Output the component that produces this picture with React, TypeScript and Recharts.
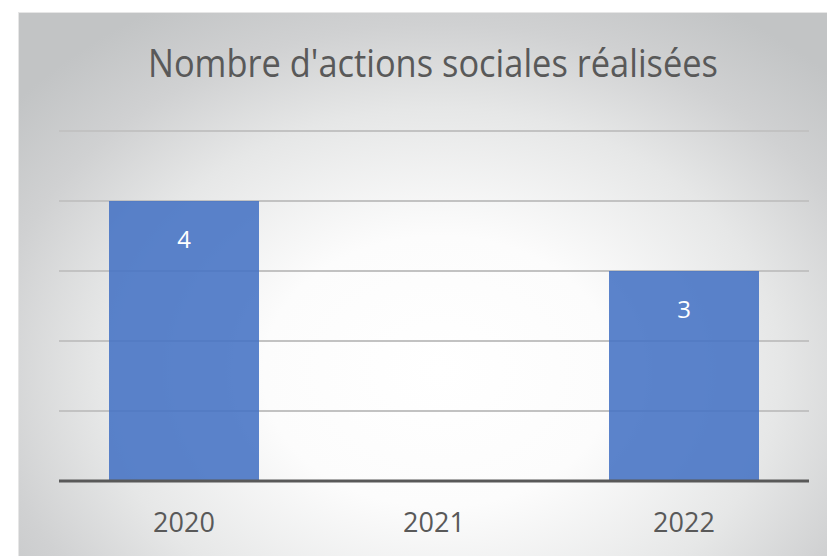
import React from 'react';
import { BarChart, Bar, XAxis, YAxis, CartesianGrid, LabelList } from 'recharts';

const categories = ['2020', '2021', '2022'];
const actions = [4, 0, 3];
const yTicks = [0, 1, 2, 3, 4, 5];
const title = "Nombre d'actions sociales réalisées";

const data = categories.map((c, i) => ({ year: c, value: actions[i] }));

const FONT = "'Open Sans', 'DejaVu Sans', sans-serif";

const renderLabel = (props: any) => {
  const { x, y, width, value } = props;
  if (!value) return null;
  return (
    <text
      x={x + width / 2}
      y={y + 47}
      textAnchor="middle"
      fill="#ffffff"
      fontSize={24}
      fontFamily={FONT}
    >
      {value}
    </text>
  );
};

export default function App() {
  return (
    <div style={{ position: 'absolute', left: 0, top: 0, width: 827, height: 556, background: '#ffffff', overflow: 'hidden' }}>
      <div
        style={{
          position: 'absolute',
          left: 18,
          top: 12,
          width: 809,
          height: 544,
          borderTop: '1px solid #e6e6e6',
          borderLeft: '1px solid #e6e6e6',
          boxSizing: 'border-box',
          background: 'radial-gradient(ellipse 68% 78% at 52% 66%, #ffffff 0%, #fcfcfc 32%, #e6e7e7 62%, #d0d1d2 82%, #c2c4c5 100%)',
        }}
      />
      <svg width={827} height={100} style={{ position: 'absolute', left: 0, top: 0 }}>
        <text
          x={433}
          y={77}
          textAnchor="middle"
          fill="#595959"
          fontSize={39}
          fontFamily={FONT}
          textLength={570}
          lengthAdjust="spacingAndGlyphs"
        >
          {title}
        </text>
      </svg>
      <div style={{ position: 'absolute', left: 0, top: 0 }}>
        <BarChart
          width={827}
          height={556}
          data={data}
          margin={{ top: 131, right: 18, bottom: 0, left: 59 }}
          barCategoryGap="20%"
        >
          <CartesianGrid vertical={false} stroke="#c2c2c2" strokeWidth={2} />
          <YAxis hide domain={[0, 5]} ticks={yTicks} />
          <XAxis
            dataKey="year"
            height={75}
            axisLine={{ stroke: '#595959', strokeWidth: 3 }}
            tickLine={false}
            tickSize={0}
            tickMargin={32}
            tick={{ fill: '#595959', fontSize: 27, fontFamily: FONT }}
          />
          <Bar dataKey="value" fill="#4472C4" fillOpacity={0.88} isAnimationActive={false}>
            <LabelList dataKey="value" content={renderLabel} />
          </Bar>
        </BarChart>
      </div>
    </div>
  );
}
